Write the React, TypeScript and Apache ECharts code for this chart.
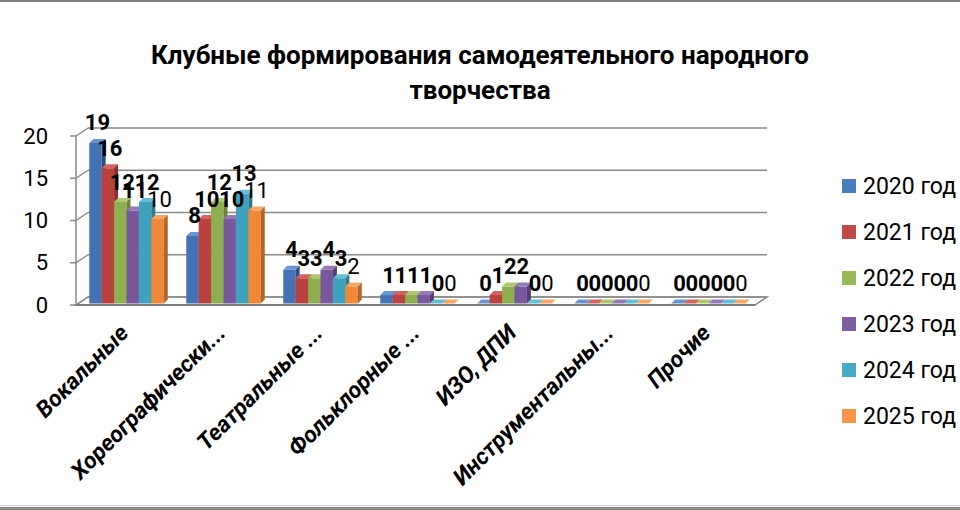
import React, { useEffect, useRef } from "react";
import * as echarts from "echarts";

const categories = [
  "Вокальные",
  "Хореографически...",
  "Театральные ...",
  "Фольклорные ...",
  "ИЗО, ДПИ",
  "Инструментальны...",
  "Прочие",
];
const years = ["2020 год", "2021 год", "2022 год", "2023 год", "2024 год", "2025 год"];
const v2020 = [19, 8, 4, 1, 0, 0, 0];
const v2021 = [16, 10, 3, 1, 1, 0, 0];
const v2022 = [12, 12, 3, 1, 2, 0, 0];
const v2023 = [11, 10, 4, 1, 2, 0, 0];
const v2024 = [12, 13, 3, 0, 0, 0, 0];
const v2025 = [10, 11, 2, 0, 0, 0, 0];
const yTicks = [0, 5, 10, 15, 20];
const titleText = "Клубные формирования самодеятельного народного\nтворчества";

const seriesValues = [v2020, v2021, v2022, v2023, v2024, v2025];
const legendColors = ["#4a7ebb", "#be4b48", "#98b954", "#7d60a0", "#46aac5", "#f79646"];
const faceColors = [
  { front: "#4472b4", top: "#6a95d2", side: "#2c4f80" },
  { front: "#b9423f", top: "#d4635f", side: "#8a2f2d" },
  { front: "#8fae4f", top: "#adc96f", side: "#6a8437" },
  { front: "#76589b", top: "#9478b7", side: "#54406f" },
  { front: "#3fa1bb", top: "#62bfd7", side: "#2d7a8e" },
  { front: "#f0883a", top: "#f9a662", side: "#b86426" },
];
const FONT = "Roboto";

function makeBarRender(si: number) {
  const c = faceColors[si];
  const bold = si < 5;
  return (params: any, api: any) => {
    const cat = api.value(0);
    const val = api.value(1);
    const top = api.coord([cat, val]);
    const base = api.coord([cat, 0]);
    const band = api.size([1, 0])[0];
    const w = band * 0.128;
    const x0 = top[0] - 3 * w + 2 + si * w;
    const yt = top[1] - 1.5;
    const yb = base[1] - 1.5;
    const dx = 4;
    const dy = 4;
    return {
      type: "group",
      children: [
        { type: "rect", shape: { x: x0, y: yt, width: w, height: yb - yt }, style: { fill: c.front } },
        {
          type: "polygon",
          shape: { points: [[x0, yt], [x0 + dx, yt - dy], [x0 + w + dx, yt - dy], [x0 + w, yt]] },
          style: { fill: c.top },
        },
        {
          type: "polygon",
          shape: { points: [[x0 + w, yt], [x0 + w + dx, yt - dy], [x0 + w + dx, yb - dy], [x0 + w, yb]] },
          style: { fill: c.side },
        },
        {
          type: "text",
          z2: 100,
          style: {
            text: String(val),
            x: x0 + w / 2 + 2,
            y: yt - 20,
            align: "center",
            verticalAlign: "middle",
            fill: "#000",
            fontSize: 22,
            fontWeight: bold ? "bold" : "normal",
            fontFamily: FONT,
          },
        },
      ],
    };
  };
}

function renderFrame(params: any, api: any) {
  const cs = params.coordSys;
  const L = cs.x;
  const R = cs.x + cs.width;
  const D = 12;
  const E = 8;
  const y0 = api.coord([0, 0])[1];
  const yTop = api.coord([0, yTicks[yTicks.length - 1]])[1];
  const gray = "#8a8a8a";
  const children: any[] = [
    {
      type: "polygon",
      shape: { points: [[L, y0], [L + D, y0 - E], [R + D, y0 - E], [R, y0]] },
      style: { fill: "#ffffff", stroke: gray, lineWidth: 1.5 },
    },
  ];
  yTicks.forEach((t) => {
    const y = api.coord([0, t])[1];
    children.push({
      type: "line",
      shape: { x1: L + D, y1: y - E, x2: R + D, y2: y - E },
      style: { stroke: gray, lineWidth: 1.5 },
    });
    children.push({
      type: "line",
      shape: { x1: L, y1: y, x2: L + D, y2: y - E },
      style: { stroke: gray, lineWidth: 1.5 },
    });
    children.push({
      type: "line",
      shape: { x1: L - 6, y1: y, x2: L, y2: y },
      style: { stroke: gray, lineWidth: 1.5 },
    });
  });
  children.push({
    type: "line",
    shape: { x1: L, y1: y0, x2: L, y2: yTop },
    style: { stroke: gray, lineWidth: 1.5 },
  });
  children.push({
    type: "line",
    shape: { x1: L, y1: y0, x2: R, y2: y0 },
    style: { stroke: "#7a7a7a", lineWidth: 2 },
  });
  return { type: "group", children };
}

export default function App() {
  const ref = useRef<HTMLDivElement>(null);
  useEffect(() => {
    if (!ref.current) return;
    const chart = echarts.init(ref.current, null, { renderer: "svg" });
    const barSeries = years.map((name, si) => ({
      type: "custom",
      name,
      z: 3,
      itemStyle: { color: legendColors[si] },
      renderItem: makeBarRender(si),
      data: seriesValues[si].map((v, j) => [j, v]),
    }));
    chart.setOption({
      animation: false,
      backgroundColor: "#ffffff",
      title: {
        text: titleText,
        left: "center",
        top: 32,
        textStyle: { fontFamily: FONT, fontSize: 26, fontWeight: "bold", color: "#000", lineHeight: 35 },
      },
      legend: {
        orient: "vertical",
        left: 837,
        top: 168,
        data: years,
        icon: "rect",
        itemWidth: 14,
        itemHeight: 14,
        itemGap: 20,
        textStyle: { fontFamily: FONT, fontSize: 23, color: "#000", lineHeight: 26, padding: [0, 0, 0, 2] },
      },
      grid: { left: 76, right: 205, top: 136, bottom: 205 },
      xAxis: {
        type: "category",
        data: categories,
        axisLine: { show: false },
        axisTick: { show: false },
        splitLine: { show: false },
        axisLabel: {
          interval: 0,
          rotate: 45,
          margin: 24,
          fontFamily: FONT,
          fontSize: 23,
          fontWeight: "bold",
          fontStyle: "italic",
          color: "#000",
        },
      },
      yAxis: {
        type: "value",
        min: 0,
        max: 20,
        interval: 5,
        axisLine: { show: false },
        axisTick: { show: false },
        splitLine: { show: false },
        axisLabel: { margin: 28, fontFamily: FONT, fontSize: 22, color: "#000" },
      },
      graphic: [
        { type: "rect", shape: { x: 0, y: 0, width: 960, height: 2 }, style: { fill: "#808080" } },
        { type: "rect", shape: { x: 0, y: 505, width: 960, height: 1 }, style: { fill: "#cfcfcf" } },
        { type: "rect", shape: { x: 0, y: 507, width: 960, height: 3 }, style: { fill: "#888888" } },
      ],
      series: [
        {
          type: "custom",
          name: "frame",
          z: 1,
          silent: true,
          renderItem: renderFrame,
          data: [[0, 0]],
        },
        ...barSeries,
      ],
    });
    return () => chart.dispose();
  }, []);
  return (
    <div
      ref={ref}
      style={{ position: "absolute", left: 0, top: 0, width: 960, height: 510, background: "#fff" }}
    />
  );
}
